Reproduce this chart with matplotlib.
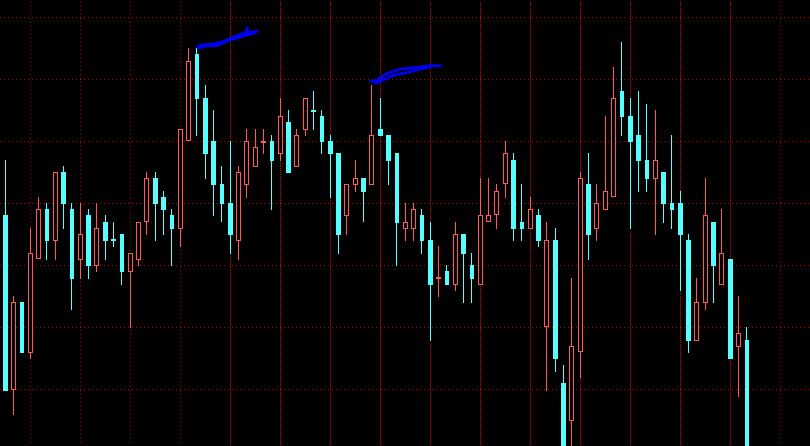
import matplotlib
matplotlib.use("Agg")
import matplotlib.pyplot as plt

# candle OHLC, price levels (chart units)
opens = [231, 57, 144, 94, 188, 237, 206, 274, 237, 187,
         231, 181, 224, 207, 212, 175, 187, 225, 268, 249,
         231, 218, 306, 392, 348, 305, 262, 243, 206, 262,
         280, 304, 305, 293, 324, 280, 317, 336, 330, 305,
         293, 231, 262, 268, 262, 317, 311, 293, 218, 218,
         231, 206, 168, 175, 162, 212, 181, 162, 225, 232,
         263, 286, 224, 218, 231, 120, 206, 63, 26, 95,
         262, 218, 237, 250, 355, 330, 311, 286, 268, 274,
         243, 243, 206, 106, 144, 224, 162, 187, 100, 106]
highs = [286, 150, 144, 218, 249, 243, 274, 280, 243, 243,
         237, 243, 231, 224, 212, 193, 224, 274, 274, 255,
         237, 317, 398, 398, 361, 336, 280, 305, 280, 317,
         317, 317, 311, 348, 336, 317, 348, 355, 336, 311,
         293, 262, 286, 268, 361, 348, 311, 293, 243, 243,
         237, 224, 200, 181, 224, 212, 193, 268, 268, 262,
         305, 293, 262, 249, 237, 224, 218, 81, 168, 274,
         293, 262, 330, 379, 404, 348, 355, 342, 336, 274,
         311, 255, 212, 168, 268, 224, 237, 187, 150, 119]
lows = [56, 32, 94, 88, 188, 187, 187, 218, 137, 168,
        168, 175, 187, 200, 162, 119, 181, 212, 206, 212,
        181, 200, 306, 311, 268, 231, 225, 193, 187, 249,
        280, 293, 237, 286, 274, 280, 311, 317, 293, 249,
        193, 212, 255, 225, 262, 311, 262, 181, 206, 206,
        193, 106, 150, 162, 156, 144, 144, 162, 225, 218,
        249, 206, 206, 218, 200, 56, 75, -30, -30, 69,
        187, 206, 237, 250, 311, 218, 255, 255, 212, 224,
        218, 156, 94, 106, 137, 144, 162, 88, 50, -30]
closes = [56, 144, 94, 193, 237, 206, 274, 243, 168, 212,
          181, 218, 206, 206, 175, 193, 224, 268, 243, 237,
          218, 317, 385, 348, 293, 262, 243, 212, 274, 305,
          299, 305, 286, 330, 274, 311, 348, 335, 305, 293,
          212, 262, 268, 255, 311, 311, 286, 224, 224, 237,
          206, 162, 169, 162, 212, 193, 168, 231, 231, 255,
          293, 218, 218, 237, 206, 206, 88, -20, 100, 268,
          212, 243, 255, 348, 330, 305, 286, 268, 286, 243,
          237, 212, 106, 144, 231, 181, 193, 88, 113, -20]

# hand drawn trend strokes (candle index, price level)
stroke_a1 = [(23.1, 399), (23.5, 401), (24.9, 402), (26.1, 404), (27.7, 410),
             (28.9, 413), (29.1, 418), (29.0, 413), (29.5, 414), (30.3, 414.5)]
stroke_a2 = [(23.3, 398), (24.0, 400), (25.5, 400.5), (26.8, 405.5),
             (28.2, 409), (29.3, 411.5), (30.0, 413)]
stroke_b1 = [(43.9, 365), (44.5, 365), (45.9, 372.7), (47.5, 377),
             (49.1, 378.3), (51.1, 380.3), (52.3, 380.3)]
stroke_b2 = [(44.5, 362.7), (46.7, 371), (47.9, 372.7), (49.9, 377),
             (51.1, 379.3)]

grid_levels = [428.7 - 62 * k for k in range(7)]
grid_bars = [3 + 6 * k for k in range(16)]
separator_bars = [3 + 6 * k for k in range(4, 15)]

bull_color = "#ff5a5a"
bear_color = "#55ffff"
grid_color = "#c00000"

fig = plt.figure(figsize=(8.1, 4.46), dpi=100, facecolor="black")
ax = fig.add_axes([0, 0, 1, 1])
ax.set_facecolor("black")
ax.set_xlim(-0.576, 96.62)
ax.set_ylim(0, 446)
ax.axis("off")

# grid + period separators
for lv in grid_levels:
    ax.axhline(lv, color=grid_color, lw=0.72, ls=(0, (1, 3)), antialiased=False, zorder=1)
for b in grid_bars:
    ax.axvline(b, color=grid_color, lw=0.72, ls=(0, (1, 3)), antialiased=False, zorder=1)
for b in separator_bars:
    ax.axvline(b, color="#d80000", lw=0.72, ls=(0, (1, 2)), antialiased=False, zorder=1)

# candles
for i, (o, h, l, c) in enumerate(zip(opens, highs, lows, closes)):
    bull = c > o
    col = bull_color if bull else bear_color
    lo, hi = min(o, c), max(o, c)
    if hi - lo < 1:
        hi = lo + 1
    # wicks above and below the body only
    if h > hi:
        ax.vlines(i, hi, h, color=col, lw=0.72, antialiased=False, zorder=2)
    if l < lo:
        ax.vlines(i, l, lo, color=col, lw=0.72, antialiased=False, zorder=2)
    if bull:
        ax.bar(i, hi - lo, bottom=lo, width=0.48, facecolor="black", edgecolor=col,
               linewidth=0.72, antialiased=False, zorder=3)
    else:
        ax.bar(i, hi - lo, bottom=lo, width=0.42, facecolor=col, edgecolor=col,
               linewidth=0.72, antialiased=False, zorder=3)

# blue strokes
for s in (stroke_a1, stroke_a2, stroke_b1, stroke_b2):
    xs = [p[0] for p in s]
    ys = [p[1] for p in s]
    ax.plot(xs, ys, color="#0000f0", lw=2.0, solid_capstyle="round",
            solid_joinstyle="round", zorder=4)

fig.savefig("out.png", dpi=100, facecolor="black")
